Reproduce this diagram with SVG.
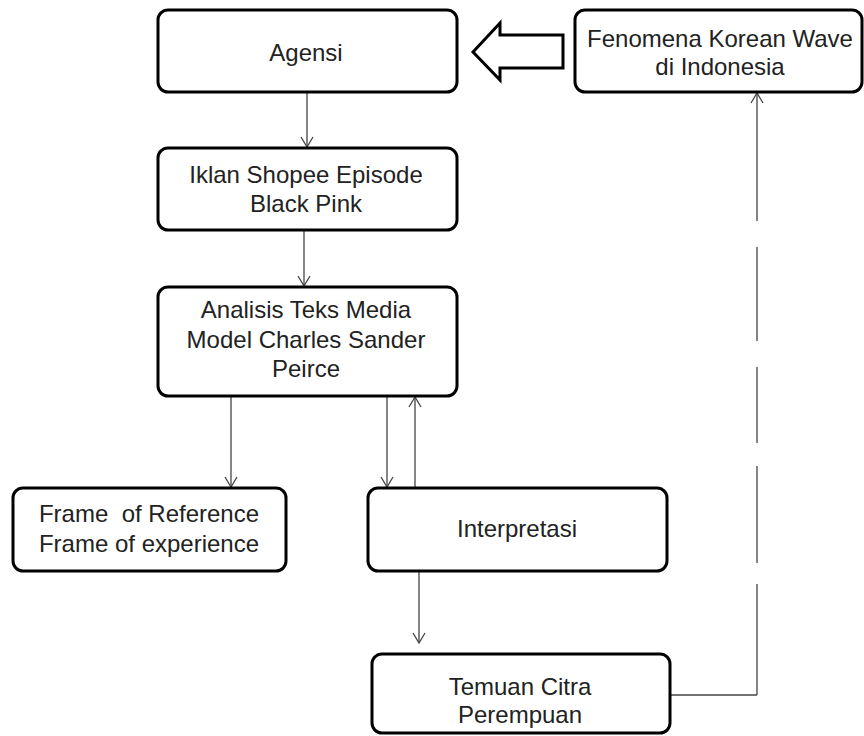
<svg xmlns="http://www.w3.org/2000/svg" width="864" height="736" viewBox="0 0 864 736">
<style>
.box{fill:#fff;stroke:#000;stroke-width:3}
.lbl{font-family:"Liberation Sans",Arial,sans-serif;font-size:24px;fill:#222;text-anchor:middle;white-space:pre}
.con{fill:none;stroke:#444;stroke-width:1.3}
</style>
<defs>
<marker id="open" viewBox="-11 -7 12 14" refX="0" refY="0" markerWidth="12" markerHeight="14" markerUnits="userSpaceOnUse" orient="auto">
<path d="M-10,-6 L0,0 L-10,6" fill="none" stroke="#444" stroke-width="1.3"/>
</marker>
</defs>
<rect width="864" height="736" fill="#fff"/>
<g id="connectors">
<line class="con" x1="307" y1="92" x2="307" y2="147" marker-end="url(#open)"/>
<line class="con" x1="304" y1="230" x2="304" y2="286" marker-end="url(#open)"/>
<line class="con" x1="231" y1="396" x2="231" y2="487" marker-end="url(#open)"/>
<line class="con" x1="387" y1="396" x2="387" y2="487" marker-end="url(#open)"/>
<line class="con" x1="415" y1="487" x2="415" y2="397" marker-end="url(#open)"/>
<line class="con" x1="419" y1="571" x2="419" y2="643" marker-end="url(#open)"/>
<line class="con" x1="670" y1="695" x2="757" y2="695"/>
<line class="con" x1="757" y1="695" x2="757" y2="93" stroke-dasharray="111 21 97 23 76 26 94 26 128" marker-end="url(#open)"/>
<polygon id="hollow-arrow" points="473,52 500,23 500,35 563,35 563,68 500,68 500,80" fill="#fff" stroke="#000" stroke-width="3" stroke-linejoin="miter"/>
</g>
<g id="agensi">
<rect class="box" x="158" y="10" width="299" height="82" rx="10"/>
<text class="lbl" x="306" y="61">Agensi</text>
</g>
<g id="fenomena">
<rect class="box" x="575" y="10" width="287" height="82" rx="10"/>
<text class="lbl" x="720" y="47">Fenomena Korean Wave</text>
<text class="lbl" x="720" y="75">di Indonesia</text>
</g>
<g id="iklan">
<rect class="box" x="158" y="148" width="299" height="82" rx="10"/>
<text class="lbl" x="306" y="183">Iklan Shopee Episode</text>
<text class="lbl" x="306" y="212">Black Pink</text>
</g>
<g id="analisis">
<rect class="box" x="158" y="287" width="299" height="109" rx="10"/>
<text class="lbl" x="306" y="318">Analisis Teks Media</text>
<text class="lbl" x="306" y="348">Model Charles Sander</text>
<text class="lbl" x="306" y="377">Peirce</text>
</g>
<g id="frame">
<rect class="box" x="13" y="488" width="273" height="83" rx="10"/>
<text class="lbl" x="149" y="522">Frame  of Reference</text>
<text class="lbl" x="149" y="552">Frame of experience</text>
</g>
<g id="interpretasi">
<rect class="box" x="368" y="488" width="299" height="83" rx="10"/>
<text class="lbl" x="517" y="537">Interpretasi</text>
</g>
<g id="temuan">
<rect class="box" x="372" y="654" width="298" height="79" rx="10"/>
<text class="lbl" x="520" y="695">Temuan Citra</text>
<text class="lbl" x="520" y="723">Perempuan</text>
</g>
</svg>
